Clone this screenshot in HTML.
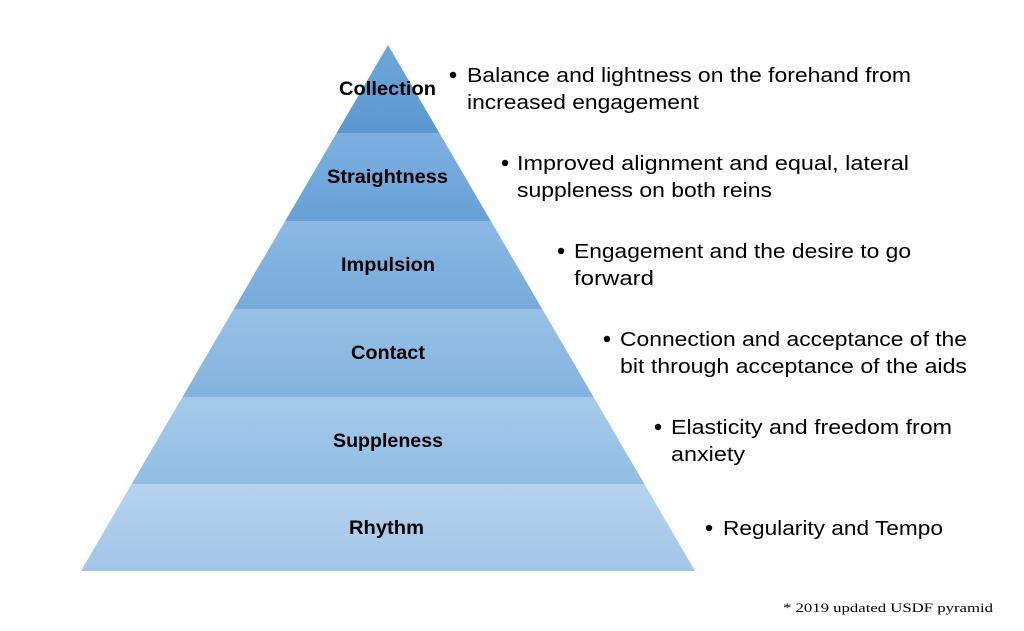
<!DOCTYPE html>
<html><head><meta charset="utf-8"><style>html,body{margin:0;padding:0;background:#fff}svg{display:block}</style></head>
<body>
<svg width="1024" height="631" viewBox="0 0 1024 631" xmlns="http://www.w3.org/2000/svg">
<defs>
<linearGradient id="g0" x1="0" y1="0" x2="0" y2="1"><stop offset="0" stop-color="#6ea7db"/><stop offset="1" stop-color="#5b97cf"/></linearGradient>
<linearGradient id="g1" x1="0" y1="0" x2="0" y2="1"><stop offset="0" stop-color="#7cb0e0"/><stop offset="1" stop-color="#68a0d5"/></linearGradient>
<linearGradient id="g2" x1="0" y1="0" x2="0" y2="1"><stop offset="0" stop-color="#8ab9e4"/><stop offset="1" stop-color="#76aad9"/></linearGradient>
<linearGradient id="g3" x1="0" y1="0" x2="0" y2="1"><stop offset="0" stop-color="#97c1e7"/><stop offset="1" stop-color="#83b3de"/></linearGradient>
<linearGradient id="g4" x1="0" y1="0" x2="0" y2="1"><stop offset="0" stop-color="#a5cbeb"/><stop offset="1" stop-color="#91bce3"/></linearGradient>
<linearGradient id="g5" x1="0" y1="0" x2="0" y2="1"><stop offset="0" stop-color="#b5d3ee"/><stop offset="1" stop-color="#a2c5e7"/></linearGradient>
</defs>
<polygon points="388,45 439.4,133 336.6,133" fill="url(#g0)"/>
<polygon points="336.6,133 439.4,133 490.8,221 285.2,221" fill="url(#g1)"/>
<polygon points="285.2,221 490.8,221 542.2,309 233.8,309" fill="url(#g2)"/>
<polygon points="233.8,309 542.2,309 593.6,397 182.4,397" fill="url(#g3)"/>
<polygon points="182.4,397 593.6,397 644.4,484 131.6,484" fill="url(#g4)"/>
<polygon points="131.6,484 644.4,484 695,571 81,571" fill="url(#g5)"/>
<g font-family="Liberation Sans, sans-serif" font-weight="bold" font-size="19" fill="#000">
<text x="339" y="95" textLength="97" lengthAdjust="spacingAndGlyphs">Collection</text>
<text x="327" y="183" textLength="121" lengthAdjust="spacingAndGlyphs">Straightness</text>
<text x="341" y="271" textLength="94" lengthAdjust="spacingAndGlyphs">Impulsion</text>
<text x="351" y="359" textLength="74" lengthAdjust="spacingAndGlyphs">Contact</text>
<text x="333" y="447" textLength="110" lengthAdjust="spacingAndGlyphs">Suppleness</text>
<text x="349" y="534" textLength="75" lengthAdjust="spacingAndGlyphs">Rhythm</text>
</g>
<g font-family="Liberation Sans, sans-serif" font-size="20" fill="#000">
<circle cx="453" cy="75" r="3.2"/>
<text x="467" y="82" textLength="444" lengthAdjust="spacingAndGlyphs">Balance and lightness on the forehand from</text>
<text x="467" y="109" textLength="232" lengthAdjust="spacingAndGlyphs">increased engagement</text>
<circle cx="505" cy="163" r="3.2"/>
<text x="517" y="170" textLength="392" lengthAdjust="spacingAndGlyphs">Improved alignment and equal, lateral</text>
<text x="517" y="197" textLength="255" lengthAdjust="spacingAndGlyphs">suppleness on both reins</text>
<circle cx="561" cy="251" r="3.2"/>
<text x="574" y="258" textLength="337" lengthAdjust="spacingAndGlyphs">Engagement and the desire to go</text>
<text x="574" y="285" textLength="80" lengthAdjust="spacingAndGlyphs">forward</text>
<circle cx="607" cy="339" r="3.2"/>
<text x="620" y="346" textLength="347" lengthAdjust="spacingAndGlyphs">Connection and acceptance of the</text>
<text x="620" y="373" textLength="347" lengthAdjust="spacingAndGlyphs">bit through acceptance of the aids</text>
<circle cx="658" cy="427" r="3.2"/>
<text x="671" y="434" textLength="281" lengthAdjust="spacingAndGlyphs">Elasticity and freedom from</text>
<text x="671" y="461" textLength="74" lengthAdjust="spacingAndGlyphs">anxiety</text>
<circle cx="709" cy="528" r="3.2"/>
<text x="723" y="535" textLength="220" lengthAdjust="spacingAndGlyphs">Regularity and Tempo</text>
</g>
<text x="783" y="612" font-family="Liberation Serif, serif" font-size="13" textLength="210" lengthAdjust="spacingAndGlyphs">* 2019 updated USDF pyramid</text>
</svg>
</body></html>
